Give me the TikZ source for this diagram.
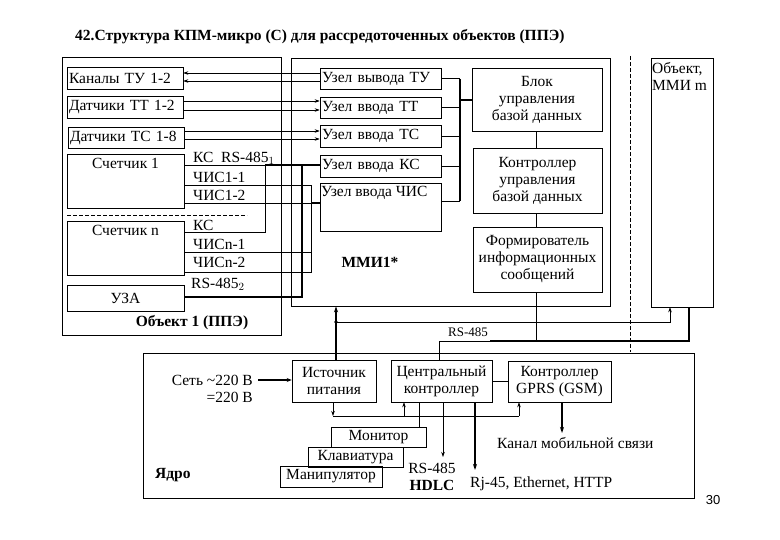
\documentclass[tikz,border=0pt]{standalone}
\usepackage{fontspec}
\setmainfont{Liberation Serif}
\newfontfamily\sansf{Liberation Sans}
\usetikzlibrary{arrows.meta}
\newcommand\mybox[7]{\node[box,minimum width={#4pt-#2pt},minimum height={#5pt-#3pt},#6] (#1) at ({(#2+#4)/2},{(#3+#5)/2}) {#7};}
\begin{document}
\begin{tikzpicture}[x=1pt,y=-1pt,
  box/.style={draw,line width=0.6pt,inner sep=1pt,font=\fontsize{15.5}{17}\selectfont,align=center},
  txt/.style={inner sep=0pt,font=\fontsize{15.5}{17}\selectfont},
  ln/.style={line width=0.6pt},
  th/.style={line width=1.6pt},
  ar/.style={-{Stealth[length=5pt,width=3.5pt]}},
  ra/.style={{Stealth[length=5pt,width=3.5pt]}-}]
\useasboundingbox (0,0) rectangle (780,540);
\node[txt,font=\bfseries\fontsize{15.5}{17}\selectfont,anchor=west] (title) at (75,37) {42.Структура КПМ-микро (С) для рассредоточенных объектов (ППЭ)};
% Object 1
\mybox{obj}{62}{57}{281}{335}{}{}
\mybox{kan}{67}{67}{183}{89}{text width=112pt,align=left}{Каналы ТУ 1-2}
\mybox{dtt}{67}{96}{183}{118}{text width=112pt,align=left}{Датчики ТТ 1-2}
\mybox{dtc}{68}{127}{184}{148}{text width=112pt,align=left}{Датчики ТС 1-8}
\mybox{sc1}{67}{154}{184}{208}{}{}
\node[txt,anchor=north] (sc1t) at (sc1.north) [yshift=-4pt] {Счетчик 1};
\mybox{scn}{67}{221}{184}{275}{}{}
\node[txt,anchor=north] (scnt) at (scn.north) [yshift=-4pt] {Счетчик n};
\mybox{uza}{67}{285}{184}{311}{}{УЗА}
\coordinate (d1) at (67,215); \coordinate (d2) at (247,215);
\draw[ln,dashed,dash pattern=on 4pt off 2pt] (d1) -- (d2);
\node[txt,anchor=west] (l1) at (193,158) {КС\ \ RS-485$_1$};
\node[txt,anchor=west] (l2) at (193,177) {ЧИС1-1};
\node[txt,anchor=west] (l3) at (193,195) {ЧИС1-2};
\node[txt,anchor=west] (l4) at (193,225) {КС};
\node[txt,anchor=west] (l5) at (193,244) {ЧИСn-1};
\node[txt,anchor=west] (l6) at (193,262) {ЧИСn-2};
\node[txt,anchor=west] (l7) at (191,284) {RS-485$_2$};
\node[txt,font=\bfseries\fontsize{15.5}{17}\selectfont] (objl) at (192,323) {Объект 1 (ППЭ)};
% MMI1
\mybox{mmi}{291}{58}{610}{306}{}{}
\mybox{vtu}{320}{68}{441}{89}{text width=117pt,align=left}{Узел вывода ТУ}
\mybox{vtt}{320}{97}{441}{118}{text width=117pt,align=left}{Узел ввода ТТ}
\mybox{vtc}{320}{125}{441}{147}{text width=117pt,align=left}{Узел ввода ТС}
\mybox{vkc}{320}{155}{441}{177}{text width=117pt,align=left}{Узел ввода КС}
\mybox{vch}{320}{183}{441}{231}{}{}
\node[txt,anchor=north west] (vcht) at (321,186) {Узел ввода ЧИС};
\mybox{bud}{472}{68}{602}{131}{}{Блок\\управления\\базой данных}
\mybox{kud}{473}{148}{602}{213}{}{Контроллер\\управления\\базой данных}
\mybox{fis}{473}{227}{602}{292}{}{Формирователь\\информационных\\сообщений}
\node[txt,font=\bfseries\fontsize{15.5}{17}\selectfont] (mmil) at (370,262) {ММИ1*};
\mybox{objm}{651}{58}{713}{307}{}{}
\node[txt,anchor=north west,align=left] (objmt) at (652,62) {Объект,\\ММИ m};
\coordinate (dd1) at (630,56); \coordinate (dd2) at (630,352);
\draw[ln,dashed,dash pattern=on 4pt off 2pt] (dd1) -- (dd2);
% channels
\draw[ln,ra] (kan.east|-0,73) -- (vtu.west|-0,73);
\draw[ln,ra] (kan.east|-0,81) -- (vtu.west|-0,81);
\draw[ln,ar] (dtt.east|-0,101) -- (vtt.west|-0,101);
\draw[ln,ar] (dtt.east|-0,110) -- (vtt.west|-0,110);
\draw[ln,ar] (dtc.east|-0,131) -- (vtc.west|-0,131);
\draw[ln,ar] (dtc.east|-0,139) -- (vtc.west|-0,139);
% KC lines
\coordinate (k1) at (265,165); \coordinate (k2) at (265,232);
\draw[ln] (sc1.east|-k1) -- (k1);
\draw[th] (k1) -- (vkc.west|-k1);
\draw[ln] (k1) -- (k2) -- (scn.east|-k2);
\coordinate (r1) at (302,165); \coordinate (r2) at (302,297);
\draw[th] (r1) -- (r2) -- (uza.east|-r2);
% ChIS lines
\coordinate (c1) at (311,185); \coordinate (c2) at (311,272);
\draw[ln] (sc1.east|-c1) -- (c1) -- (c2) -- (scn.east|-c2);
\draw[ln] (sc1.east|-0,203) -- (311,203);
\draw[th] (311,203) -- (vch.west|-0,203);
\draw[ln] (scn.east|-0,252) -- (312,252);
% bus
\coordinate (b1) at (460,79); \coordinate (b2) at (460,201);
\draw[th] (b1) -- (b2);
\draw[ln] (vtu.east) -- (vtu.east-|b1);
\draw[ln] (vtt.east) -- (vtt.east-|b1);
\draw[ln] (vtc.east) -- (vtc.east-|b1);
\draw[ln] (vkc.east) -- (vkc.east-|b1);
\draw[ln] (vch.east|-b2) -- (b2);
\draw[th] (460,100) -- (bud.west|-0,100);
\draw[ln] (bud.south-|536,0) -- (kud.north-|536,0);
\draw[ln] (kud.south-|536,0) -- (fis.north-|536,0);
% Core
\mybox{core}{143}{353}{694}{498}{}{}
\mybox{ist}{292}{360}{376}{402}{}{Источник\\питания}
\mybox{cen}{391}{360}{492}{402}{}{Центральный\\контроллер}
\mybox{gprs}{508}{361}{611}{402}{}{Контроллер\\GPRS (GSM)}
\mybox{mon}{331}{427}{426}{447}{}{Монитор}
\mybox{kla}{308}{447}{403}{467}{}{Клавиатура}
\mybox{man}{280}{466}{382}{487}{}{Манипулятор}
\node[txt,anchor=east,align=right] (set) at (253,389) {Сеть \textasciitilde220 В\\=220 В};
\node[txt,font=\bfseries\fontsize{15.5}{17}\selectfont,anchor=west] (yadro) at (155,475) {Ядро};
\node[txt,align=center] (rsh) at (432,477) {RS-485\\\textbf{HDLC}};
\node[txt,anchor=west] (rj) at (470,484) {Rj-45, Ethernet, HTTP};
\node[txt,anchor=west] (kms) at (497,443) {Канал мобильной связи};
\node[inner sep=0pt,font=\sansf\fontsize{13}{15}\selectfont] (pg) at (713,500) {30};
% core connections
\draw[th,-{Stealth[length=5pt,width=4pt]}] (258,380) -- (ist.west|-0,380);
\coordinate (pb1) at (333,416); \coordinate (pb2) at (519,416);
\draw[ln,ar] (ist.south-|pb1) -- (pb1);
\draw[ln] (pb1) -- (pb2);
\draw[ln,ar] (pb2) -- (gprs.south-|pb2);
\draw[ln,ar] (404,416) -- (cen.south-|404,0);
\draw[ln] (cen.east|-0,381) -- (gprs.west|-0,381);
\draw[ln] (cen.south-|419,0) -- (mon.north-|419,0);
\coordinate (rs1) at (443,457); \draw[ln,ar] (cen.south-|rs1) -- (rs1);
\coordinate (rj1) at (475,470); \draw[th,-{Stealth[length=6pt,width=4pt]}] (cen.south-|rj1) -- (rj1);
\coordinate (gm1) at (562,433); \draw[th,-{Stealth[length=6pt,width=4pt]}] (gprs.south-|gm1) -- (gm1);
% upper links
\coordinate (p1) at (336,322);
\draw[th,-{Stealth[length=6pt,width=4pt]}] (ist.north-|p1) -- (mmi.south-|p1);
\fill (p1) circle (1.8pt);
\draw[ln,ar] (p1) -- (670,322) -- (objm.south-|670,0);
\coordinate (q1) at (439,341); \coordinate (q2) at (689,341);
\draw[ln] (cen.north-|q1) -- (q1) -- (490,341);
\draw[th] (490,341) -- (q2) -- (objm.south-|q2);
\draw[ln] (fis.south-|536,0) -- (536,341);
\node[txt,font=\fontsize{13}{15}\selectfont] (rsl) at (468,332) {RS-485};
\end{tikzpicture}
\end{document}
